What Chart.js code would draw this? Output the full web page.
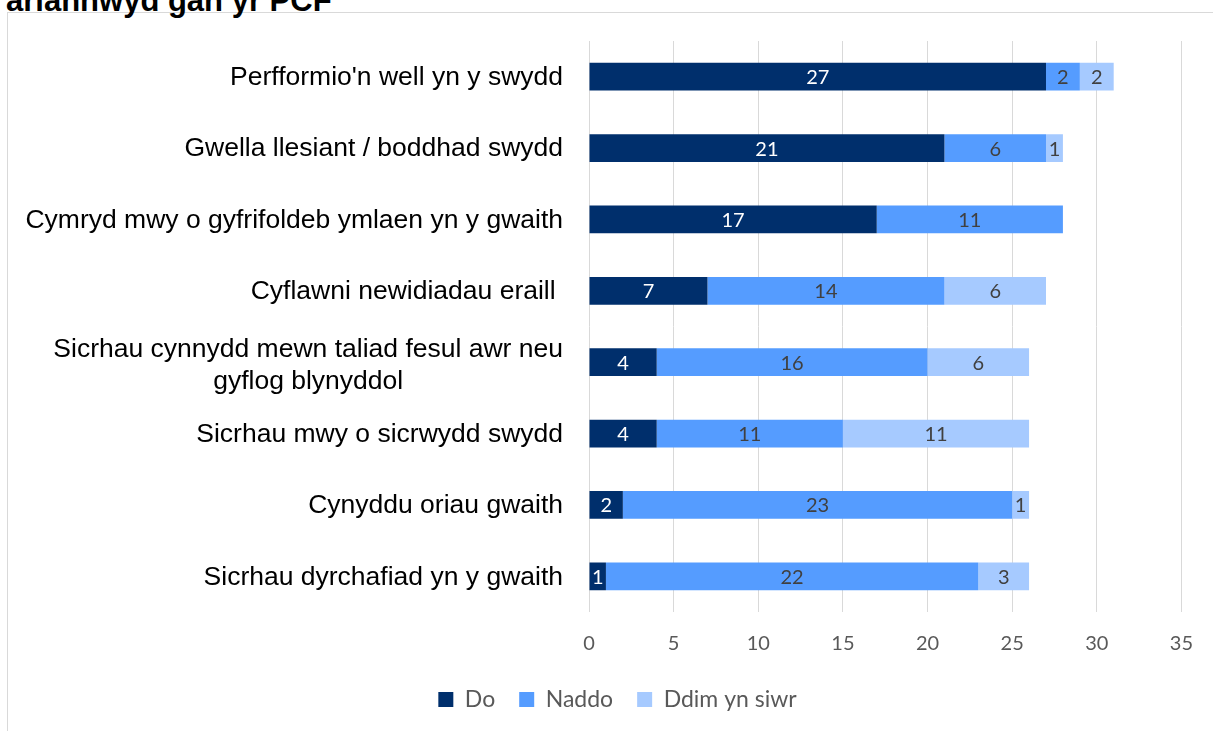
<!DOCTYPE html>
<html>
<head>
<meta charset="utf-8">
<script src="https://cdn.jsdelivr.net/npm/chart.js@4.4.1/dist/chart.umd.min.js"></script>
<style>
  html, body { margin: 0; padding: 0; background: #fff; overflow: hidden; }
  #wrap { position: relative; width: 1213px; height: 731px; overflow: hidden; }
  #frame { position: absolute; left: 7px; top: 12px; width: 1220px; height: 740px; border: 1px solid #d9d9d9; }
  #title { position: absolute; left: 6px; top: -15px; font: bold 31px 'Liberation Sans', Arial, sans-serif; line-height: 31px; color: #000; white-space: nowrap; }
  canvas { position: absolute; left: 0; top: 0; }
</style>
</head>
<body>
<div id="wrap">
  <div id="frame"></div>
  <div id="title">ariannwyd gan yr PCF</div>
  <canvas id="grafico" width="1213" height="731"></canvas>
</div>
<script>
// Dados do gráfico
const categorias = [
  ["Perfformio'n well yn y swydd"],
  ['Gwella llesiant / boddhad swydd'],
  ['Cymryd mwy o gyfrifoldeb ymlaen yn y gwaith'],
  ['Cyflawni newidiadau eraill '],
  ['Sicrhau cynnydd mewn taliad fesul awr neu', 'gyflog blynyddol'],
  ['Sicrhau mwy o sicrwydd swydd'],
  ['Cynyddu oriau gwaith'],
  ['Sicrhau dyrchafiad yn y gwaith'],
];
const seriesNomes = ['Do', 'Naddo', 'Ddim yn siwr'];
const valoresDo = [27, 21, 17, 7, 4, 4, 2, 1];
const valoresNaddo = [2, 6, 11, 14, 16, 11, 23, 22];
const valoresDdim = [2, 1, 0, 6, 6, 11, 1, 3];
const ticksX = [0, 5, 10, 15, 20, 25, 30, 35];

const cores = ['#002f6c', '#559cff', '#a6caff'];
const coresTexto = ['#ffffff', '#404040', '#404040'];
const fonteNum = 'Lato, "Open Sans", sans-serif';

// Rótulos das categorias (linhas centradas entre si, bloco alinhado à direita)
const rotulosY = {
  id: 'rotulosY',
  afterDraw(chart) {
    const ctx = chart.ctx;
    const y = chart.scales.y;
    const direita = chart.chartArea.left - 26;
    const alturaLinha = 32;
    ctx.save();
    ctx.font = '26.5px "Liberation Sans", Arial, sans-serif';
    ctx.fillStyle = '#000';
    ctx.textAlign = 'center';
    ctx.textBaseline = 'middle';
    categorias.forEach((linhas, i) => {
      const cy = y.getPixelForTick(i) + (linhas.length > 1 ? 3 : 1);
      const larg = Math.max(...linhas.map((l) => ctx.measureText(l).width));
      const cx = direita - larg / 2;
      const y0 = cy - ((linhas.length - 1) * alturaLinha) / 2;
      linhas.forEach((l, k) => ctx.fillText(l, cx, y0 + k * alturaLinha));
    });
    ctx.restore();
  },
};

// Valores dentro das barras
const rotulosValor = {
  id: 'rotulosValor',
  afterDatasetsDraw(chart) {
    const ctx = chart.ctx;
    ctx.save();
    ctx.font = '20px ' + fonteNum;
    ctx.textAlign = 'center';
    ctx.textBaseline = 'middle';
    chart.data.datasets.forEach((ds, i) => {
      const meta = chart.getDatasetMeta(i);
      ctx.fillStyle = coresTexto[i];
      meta.data.forEach((bar, j) => {
        const v = ds.data[j];
        if (!v) return;
        const p = bar.getProps(['x', 'y', 'base'], true);
        ctx.fillText(String(v), (p.x + p.base) / 2, p.y + 1);
      });
    });
    ctx.restore();
  },
};

new Chart(document.getElementById('grafico').getContext('2d'), {
  type: 'bar',
  data: {
    labels: categorias,
    datasets: [
      { label: seriesNomes[0], data: valoresDo, backgroundColor: cores[0] },
      { label: seriesNomes[1], data: valoresNaddo, backgroundColor: cores[1] },
      { label: seriesNomes[2], data: valoresDdim, backgroundColor: cores[2] },
    ],
  },
  options: {
    indexAxis: 'y',
    responsive: false,
    animation: false,
    layout: { padding: { top: 41, right: 28, bottom: 10, left: 50 } },
    datasets: { bar: { barPercentage: 0.39, categoryPercentage: 1 } },
    scales: {
      x: {
        stacked: true,
        min: 0,
        max: 35,
        afterBuildTicks: (s) => { s.ticks = ticksX.map((v) => ({ value: v })); },
        afterFit: (s) => { s.height -= 12; },
        grid: { color: '#d9d9d9', lineWidth: 1, drawTicks: false },
        border: { display: false },
        ticks: { padding: 20, color: '#595959', font: { family: fonteNum, size: 20 } },
      },
      y: {
        stacked: true,
        grid: { display: false },
        border: { display: false },
        ticks: { display: false },
        afterFit: (s) => { s.width = 539; },
      },
    },
    plugins: {
      legend: {
        position: 'bottom',
        labels: {
          boxWidth: 15,
          boxHeight: 15,
          padding: 24,
          color: '#595959',
          font: { family: fonteNum, size: 23 },
        },
      },
      tooltip: { enabled: false },
    },
  },
  plugins: [rotulosY, rotulosValor],
});
</script>
</body>
</html>
